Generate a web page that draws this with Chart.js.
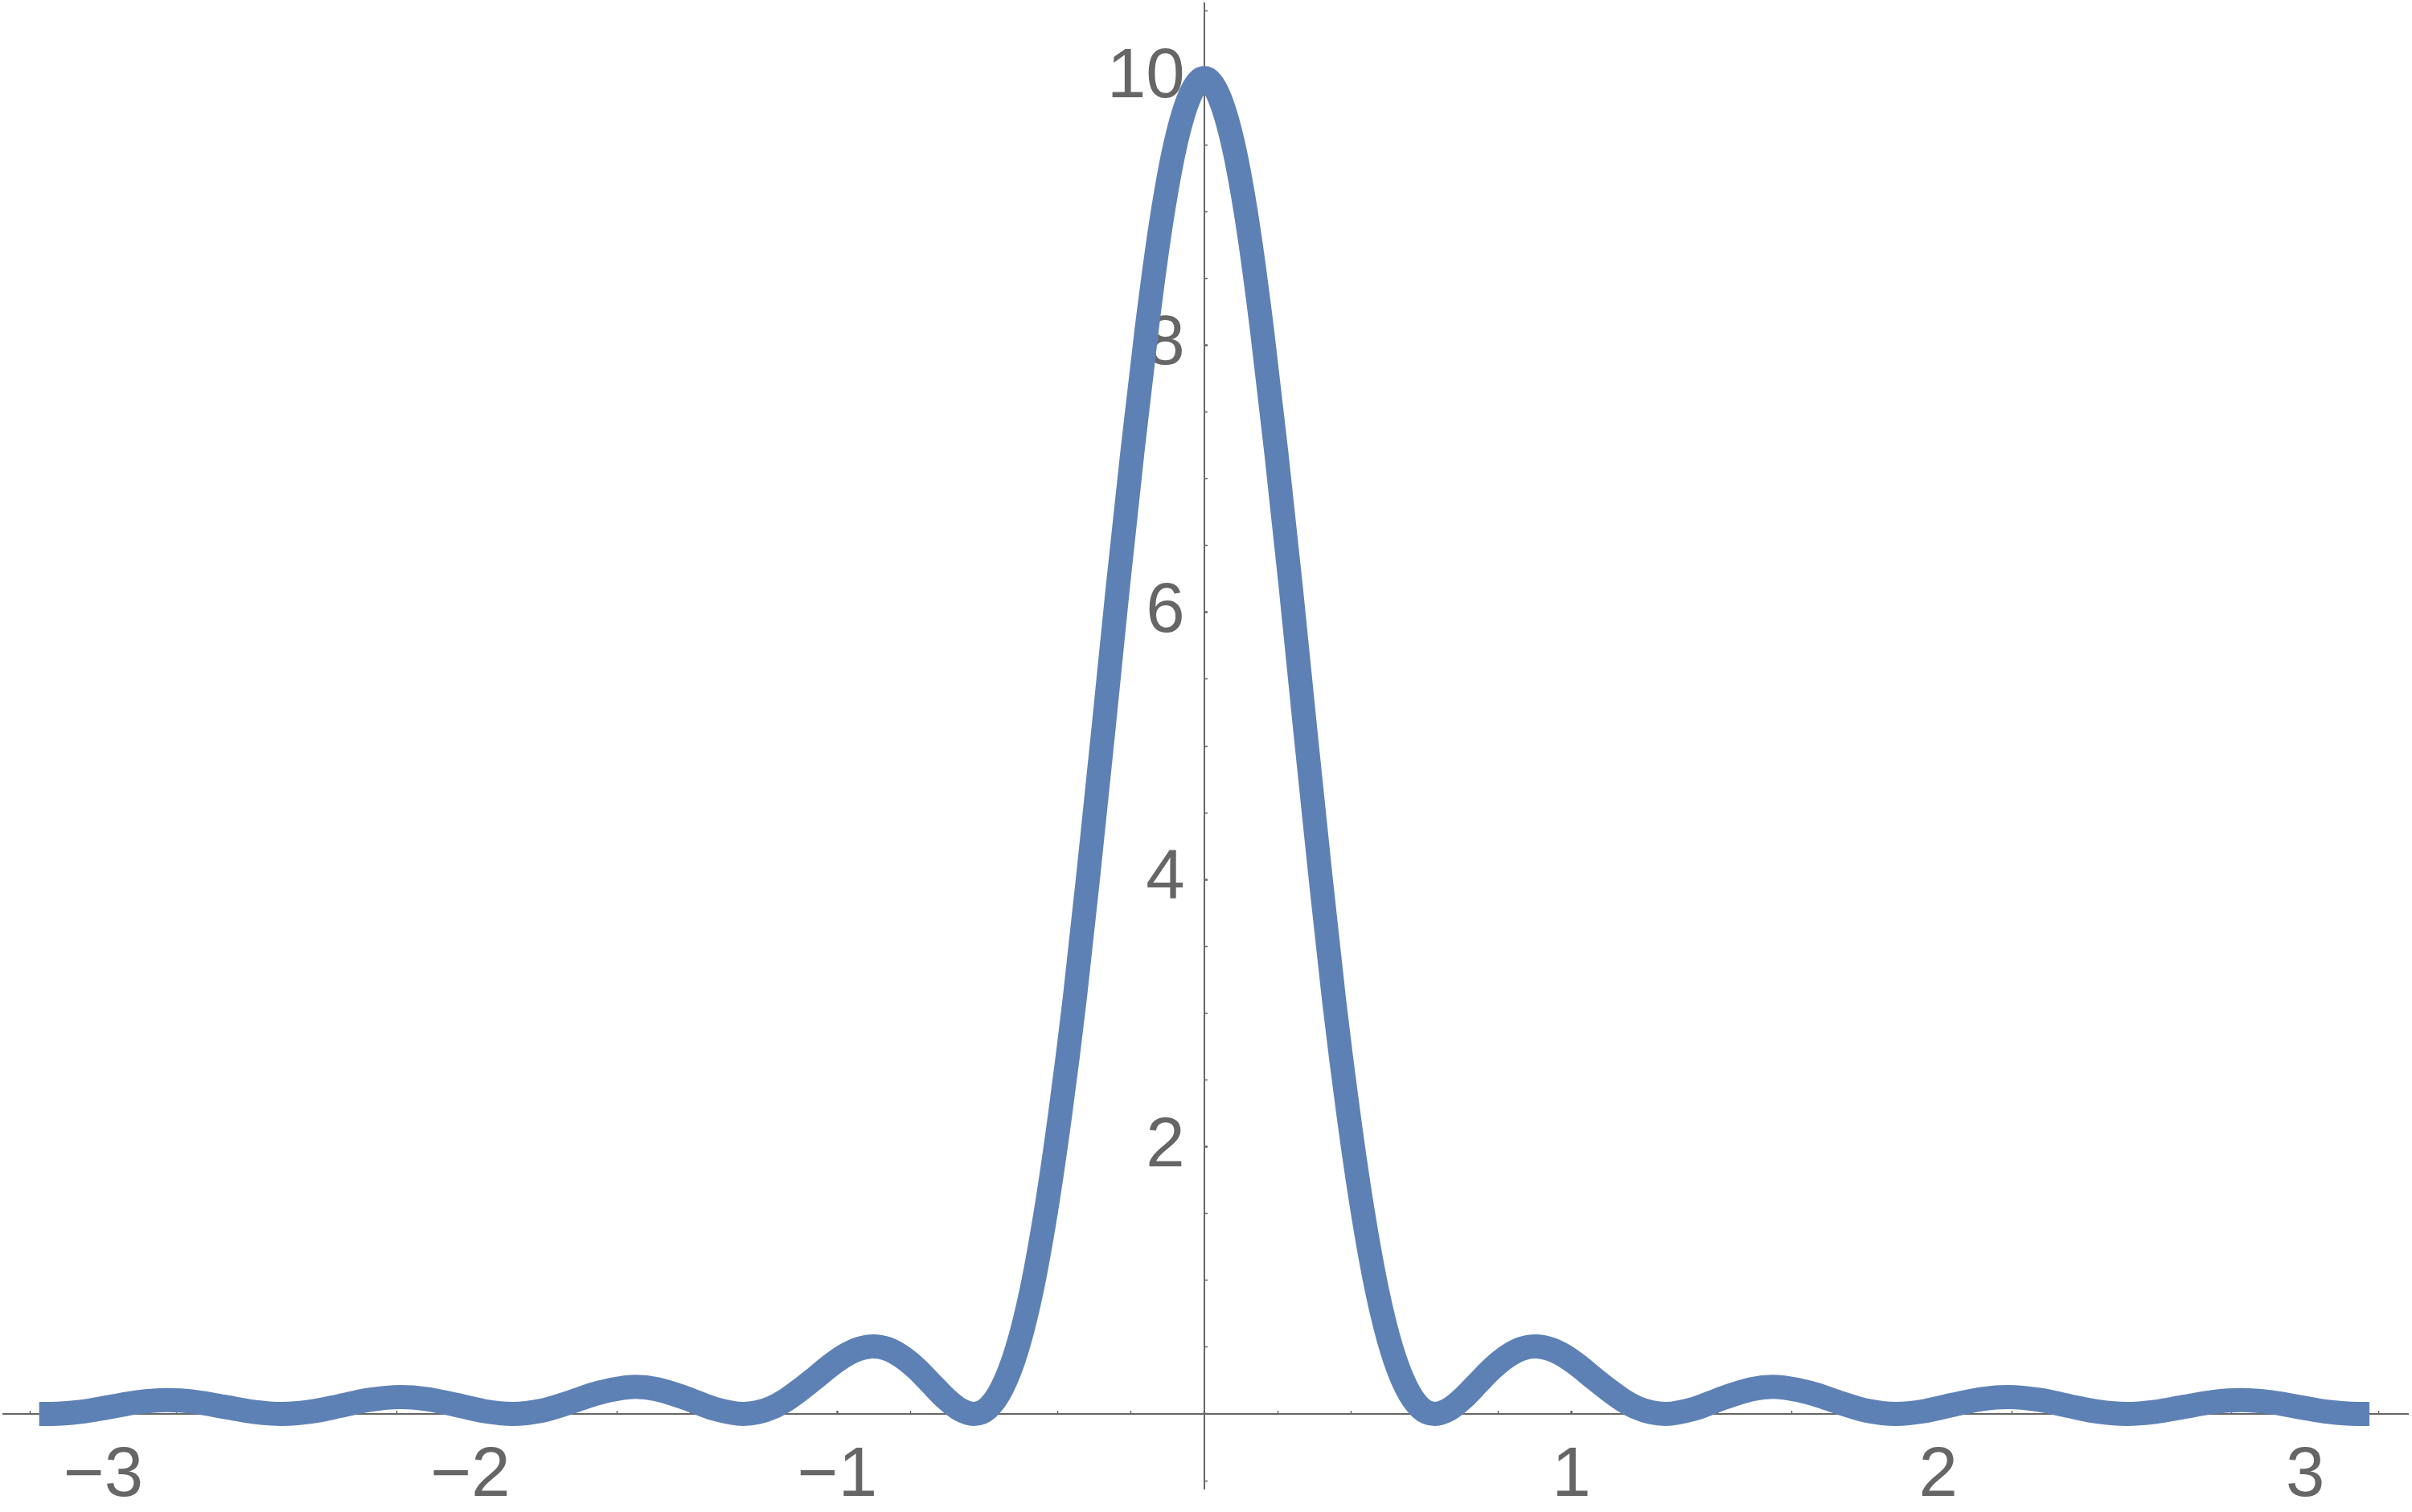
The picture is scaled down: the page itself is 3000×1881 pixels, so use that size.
<!DOCTYPE html>
<html>
<head>
<meta charset="utf-8">
<script src="https://cdn.jsdelivr.net/npm/chart.js@4.4.1/dist/chart.umd.min.js"></script>
<style>
  html, body { margin: 0; padding: 0; background: #ffffff; }
  #plot { display: block; }
</style>
</head>
<body>
<canvas id="plot" width="3000" height="1881"></canvas>
<script>
// sample points (x, y)
const xValues = [
  -3.175, -3.142, -3.063, -2.985, -2.906, -2.827, -2.749, -2.670, -2.592, -2.513,
  -2.435, -2.356, -2.278, -2.190, -2.121, -2.042, -1.963, -1.885, -1.806, -1.728,
  -1.649, -1.550, -1.492, -1.414, -1.335, -1.257, -1.217, -1.178, -1.139, -1.100,
  -1.060, -1.021, -0.982, -0.942, -0.903, -0.864, -0.825, -0.785, -0.746, -0.707,
  -0.668, -0.628, -0.589, -0.550, -0.511, -0.471, -0.432, -0.393, -0.353, -0.314,
  -0.275, -0.236, -0.196, -0.157, -0.118, -0.079, -0.039, 0,
  0.039, 0.079, 0.118, 0.157, 0.196, 0.236, 0.275, 0.314, 0.353, 0.393,
  0.432, 0.471, 0.511, 0.550, 0.589, 0.628, 0.668, 0.707, 0.746, 0.785,
  0.825, 0.864, 0.903, 0.942, 0.982, 1.021, 1.060, 1.100, 1.139, 1.178,
  1.217, 1.257, 1.335, 1.414, 1.492, 1.550, 1.649, 1.728, 1.806, 1.885,
  1.963, 2.042, 2.121, 2.190, 2.278, 2.356, 2.435, 2.513, 2.592, 2.670,
  2.749, 2.827, 2.906, 2.985, 3.063, 3.142, 3.175
];
const yValues = [
  0, 0, 0.015, 0.050, 0.087, 0.103, 0.089, 0.053, 0.016, 0,
  0.017, 0.059, 0.104, 0.126, 0.112, 0.069, 0.021, 0, 0.024, 0.087,
  0.158, 0.202, 0.185, 0.119, 0.038, 0, 0.012, 0.047, 0.106, 0.183,
  0.270, 0.358, 0.433, 0.485, 0.505, 0.487, 0.430, 0.341, 0.232, 0.122,
  0.036, 0, 0.045, 0.20, 0.48, 0.92, 1.51, 2.24, 3.11, 4.09,
  5.12, 6.18, 7.20, 8.12, 8.91, 9.50, 9.87, 10,
  9.87, 9.50, 8.91, 8.12, 7.20, 6.18, 5.12, 4.09, 3.11, 2.24,
  1.51, 0.92, 0.48, 0.20, 0.045, 0, 0.036, 0.122, 0.232, 0.341,
  0.430, 0.487, 0.505, 0.485, 0.433, 0.358, 0.270, 0.183, 0.106, 0.047,
  0.012, 0, 0.038, 0.119, 0.185, 0.202, 0.158, 0.087, 0.024, 0,
  0.021, 0.069, 0.112, 0.126, 0.104, 0.059, 0.017, 0, 0.016, 0.053,
  0.089, 0.103, 0.087, 0.050, 0.015, 0, 0
];

// labelled ticks
const xTickLabels = [-3, -2, -1, 1, 2, 3];
const yTickLabels = [2, 4, 6, 8, 10];

const axisGray = '#666666';
const lineBlue = '#5e81b5';

function isLabelled(v, list) {
  return list.some(t => Math.abs(t - v) < 1e-6);
}
function fmt(v) {
  const n = Math.round(v);
  return n < 0 ? '\u2212' + Math.abs(n) : String(n);
}
function noPadding(scale) {
  scale.paddingLeft = 0;
  scale.paddingRight = 0;
  scale.paddingTop = 0;
  scale.paddingBottom = 0;
}

const points = xValues.map((x, i) => ({ x: x, y: yValues[i] }));

new Chart(document.getElementById('plot'), {
  type: 'line',
  data: {
    datasets: [{
      data: points,
      borderColor: lineBlue,
      borderWidth: 30,
      borderJoinStyle: 'round',
      borderCapStyle: 'butt',
      pointRadius: 0,
      fill: false,
      cubicInterpolationMode: 'monotone'
    }]
  },
  options: {
    responsive: false,
    animation: false,
    events: [],
    layout: { padding: { left: 4, right: 5, top: 4, bottom: 29 } },
    plugins: {
      legend: { display: false },
      tooltip: { enabled: false }
    },
    scales: {
      x: {
        type: 'linear',
        position: { y: 0 },
        min: -3.273,
        max: 3.28,
        afterFit: noPadding,
        border: { display: true, color: axisGray, width: 2 },
        grid: {
          drawOnChartArea: false,
          drawTicks: true,
          tickLength: -5,
          tickColor: axisGray,
          tickWidth: ctx => isLabelled(ctx.tick.value, xTickLabels) ? 2.5 : 1.5
        },
        ticks: {
          stepSize: 0.2,
          includeBounds: false,
          autoSkip: false,
          maxRotation: 0,
          padding: 31,
          color: axisGray,
          font: { family: '"Liberation Sans", Arial, sans-serif', size: 87 },
          callback: v => isLabelled(v, xTickLabels) ? fmt(v) : ''
        }
      },
      y: {
        type: 'linear',
        position: { x: 0 },
        min: -0.56,
        max: 10.56,
        afterFit: noPadding,
        border: { display: true, color: axisGray, width: 2 },
        grid: {
          drawOnChartArea: false,
          drawTicks: true,
          tickLength: -5,
          tickColor: axisGray,
          tickWidth: ctx => isLabelled(ctx.tick.value, yTickLabels) ? 2.5 : 1.5
        },
        ticks: {
          stepSize: 0.5,
          includeBounds: false,
          autoSkip: false,
          color: axisGray,
          font: { family: '"Liberation Sans", Arial, sans-serif', size: 87 },
          // trailing space keeps the label clear of the axis line
          callback: v => isLabelled(v, yTickLabels) ? fmt(v) + ' ' : ''
        }
      }
    }
  }
});
</script>
</body>
</html>
